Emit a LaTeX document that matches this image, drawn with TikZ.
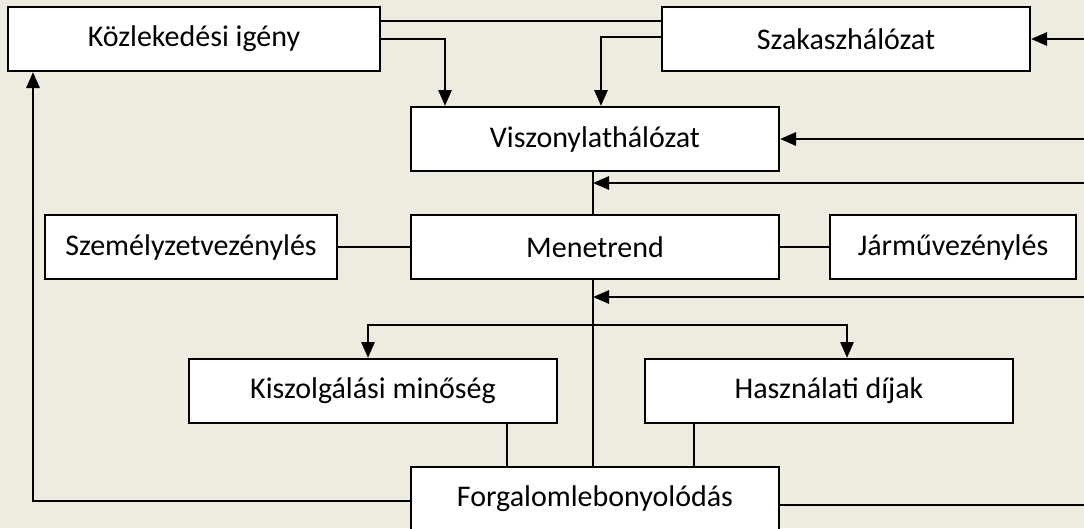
\documentclass[tikz,border=0pt]{standalone}
\usepackage{fontspec}
\setmainfont{Carlito}
\usetikzlibrary{arrows.meta,calc}
\definecolor{paper}{HTML}{EEECE1}
\begin{document}
\begin{tikzpicture}[x=1pt,y=-1pt,
  box/.style={draw=black,line width=2pt,fill=white,minimum height=64pt,
    inner sep=0pt,font=\fontsize{30}{35}\selectfont},
  thinline/.style={line width=1.4pt},
  thickline/.style={line width=2.8pt},
  tip/.style={-{Triangle[length=16pt,width=13pt]}},
  bothtips/.style={{Triangle[length=16pt,width=13pt]}-{Triangle[length=16pt,width=13pt]}}]
  % page and background
  \useasboundingbox (0,0) rectangle (1084,528);
  \fill[paper] (0,0) rectangle (1084,528);
  \clip (0,0) rectangle (1084,528);

  % boxes
  \node[box,minimum width=372pt] (kozl)    at (194,39)   {Közlekedési igény};
  \node[box,minimum width=368pt] (szak)    at (846,39)   {Szakaszhálózat};
  \node[box,minimum width=368pt] (visz)    at (595,139)  {Viszonylathálózat};
  \node[box,minimum width=292pt] (szem)    at (191,247)  {Személyzetvezénylés};
  \node[box,minimum width=368pt] (menet)   at (595,247)  {Menetrend};
  \node[box,minimum width=246pt] (jarmu)   at (953,247)  {Járművezénylés};
  \node[box,minimum width=368pt] (kiszolg) at (373,391)  {Kiszolgálási minőség};
  \node[box,minimum width=368pt] (hasz)    at (829,391)  {Használati díjak};

  % free ends at the right edge and bend points
  \coordinate (r1) at (1084,39);
  \coordinate (r2) at (1084,139);
  \coordinate (r3) at (1084,183);
  \coordinate (r4) at (1084,297);
  \coordinate (r5) at (1084,505);
  \coordinate (bl) at (368,325);
  \coordinate (br) at (847,325);

  % trunk: Viszonylathálózat -> Menetrend -> Forgalomlebonyolódás
  \draw[thinline] ([xshift=-2pt]visz.south) -- ([xshift=-2pt]menet.north);
  \draw[thinline] ([xshift=-2pt]menet.south) -- ++(0,190);

  % side links of Menetrend
  \draw[thinline] (szem) -- (menet);
  \draw[thinline] (jarmu) -- (menet);

  % links at the top
  \draw[thinline] ([yshift=18pt]kozl.east) -- ([yshift=18pt]szak.west);
  \draw[thickline,tip] (kozl.east) -| ([xshift=-150pt]visz.north);
  \draw[thickline,tip] ([yshift=2pt]szak.west) -| ([xshift=6pt]visz.north);

  % inputs from the right
  \draw[thickline,tip] (r1) -- (szak.east);
  \draw[thickline,tip] (r2) -- (visz.east);
  \draw[thickline,tip] (r3) -- ([xshift=-2pt]r3 -| visz.south);
  \draw[thickline,tip] (r4) -- ([xshift=-2pt]r4 -| menet.south);

  % branch to the two lower boxes
  \draw[thickline,bothtips] (kiszolg.north -| bl) |- (br) -- (hasz.north -| br);

  % bottom box and its links
  \node[box,minimum width=368pt] (forg) at (595,499) {Forgalomlebonyolódás};
  \draw[thinline] ([xshift=134pt]kiszolg.south) -- ([xshift=134pt]kiszolg.south |- forg.north);
  \draw[thinline] ([xshift=-135pt]hasz.south) -- ([xshift=-135pt]hasz.south |- forg.north);
  \draw[thickline,tip] ([yshift=-2pt]forg.west) -| ([xshift=-161pt]kozl.south);
  \draw[thickline] (r5 -| forg.east) -- (r5);
\end{tikzpicture}
\end{document}
